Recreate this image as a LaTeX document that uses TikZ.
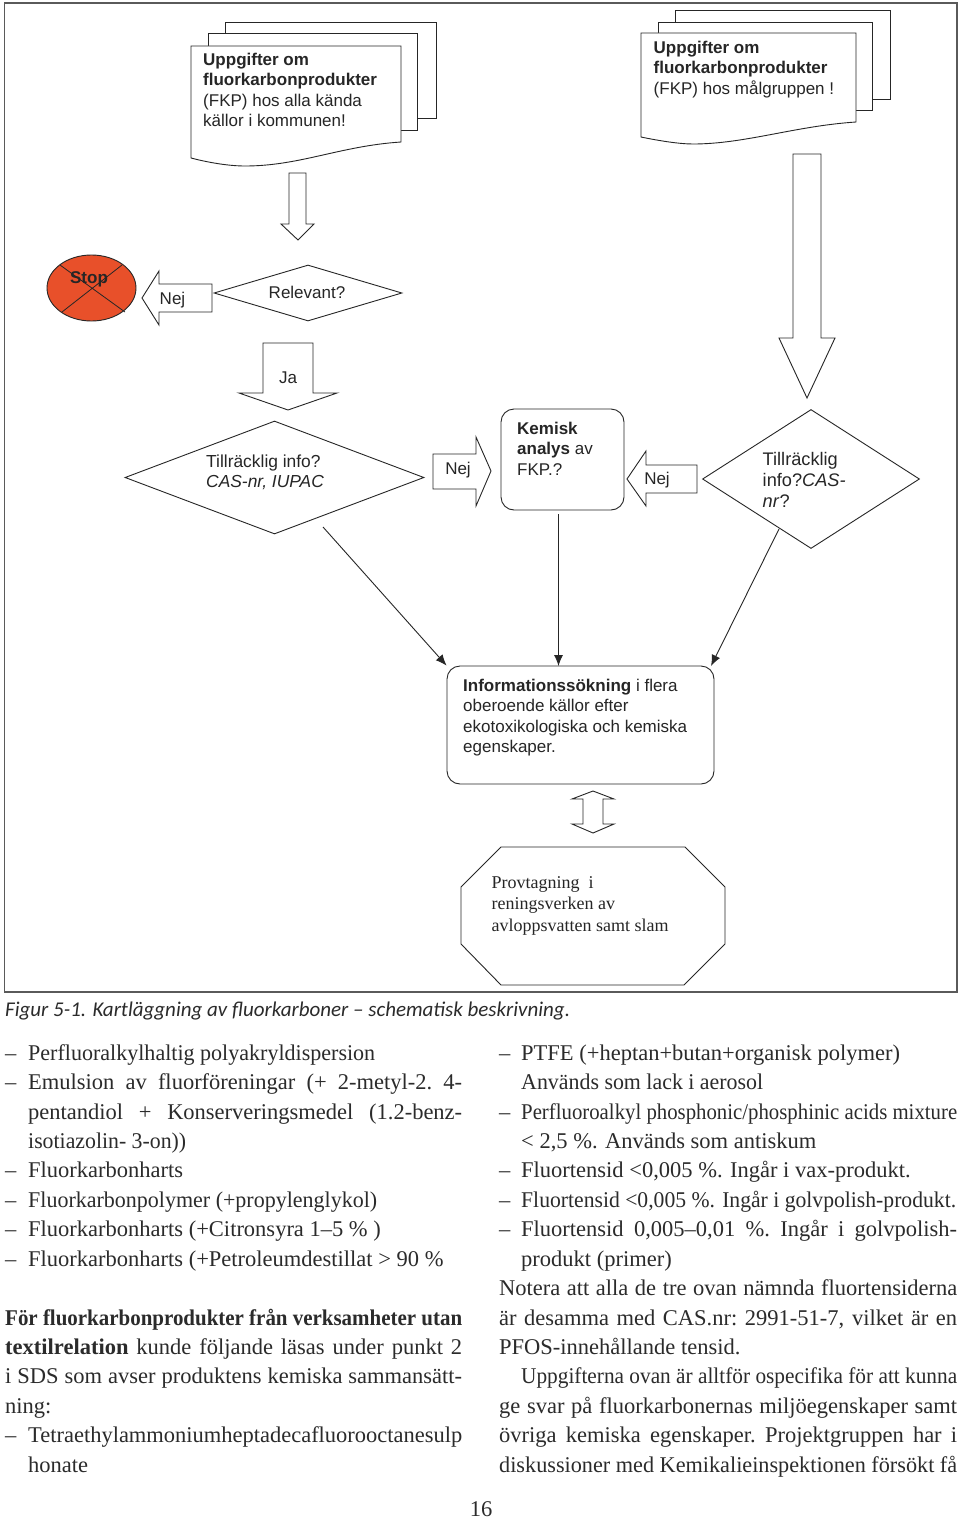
\documentclass[tikz,border=0pt]{standalone}
\usepackage{graphicx}
\usepackage{fontspec}
\setmainfont{Liberation Serif}
\newfontfamily\diagsans{Liberation Sans}
\newfontfamily\capsans{Carlito}
\usetikzlibrary{shapes.geometric,arrows.meta}
\definecolor{ink}{HTML}{2B2B2B}
\definecolor{dtext}{HTML}{262626}
\definecolor{frameg}{HTML}{5A5A5A}
\definecolor{stopred}{HTML}{E8502A}
\tikzset{
  shape line/.style={draw=black!85,line width=0.9pt,fill=white,line join=miter},
  round box/.style={shape line,rounded corners=13pt,minimum width=0pt,inner sep=0pt},
  dmd/.style={shape line,diamond,inner sep=0pt,aspect=2},
  dlabel/.style={font=\diagsans\fontsize{17}{20.3}\selectfont,text=dtext,inner sep=0pt,align=left},
  slabel/.style={font=\fontsize{18}{21.5}\selectfont,text=dtext,inner sep=0pt,align=left},
  body/.style={font=\fontsize{22.5}{29}\selectfont,text=ink,inner sep=0pt,anchor=base west},
  thin arrow/.style={draw=black!85,line width=0.9pt,-{Latex[length=11pt,width=9pt]}},
}
\newsavebox{\linebox}
\newcommand{\fitline}[2]{\sbox{\linebox}{#2}%
  \ifdim\wd\linebox>#1pt
    \pgfmathsetmacro{\lineratio}{#1/\the\wd\linebox}%
    \scalebox{\lineratio}[1]{\usebox{\linebox}}%
  \else
    \spaceskip=.25em plus 1em\xspaceskip=\spaceskip\hbox to #1pt{#2}%
  \fi}
\newcommand{\nl}[4]{\node[body] (#1) at (#2,#3+0.5) {#4};}
\newcommand{\jl}[5]{\node[body] (#1) at (#2,#3+0.5) {\fitline{#4}{#5}};}
\begin{document}
\begin{tikzpicture}[x=1pt,y=-1pt]
\useasboundingbox (0,0) rectangle (960,1520);
\fill[white] (0,0) rectangle (960,1520);
\draw[frameg,line width=1.1pt] (4.5,3) rectangle (957,992);

% first document stack
\draw[shape line] (225,22) rectangle (436,118);
\draw[shape line] (208,33) rectangle (417,130);
\draw[shape line] (191,46) -- (401,46) -- (401,142) .. controls (340,146) and (300,166) .. (245,166) .. controls (230,166) and (210,163) .. (191,158) -- cycle;
\node[dlabel,anchor=north west] (doca) at (203,53) {\textbf{Uppgifter om}\\\textbf{fluorkarbonprodukter}\\(FKP) hos alla kända\\källor i kommunen!};

% second document stack
\draw[shape line] (675,10) rectangle (890,99);
\draw[shape line] (658,22) rectangle (872,110);
\draw[shape line] (641,33) -- (856,33) -- (856,122) .. controls (795,126) and (745,144) .. (693,144) .. controls (680,144) and (660,141) .. (641,137) -- cycle;
\node[dlabel,anchor=north west] (docb) at (653.5,41) {\textbf{Uppgifter om}\\\textbf{fluorkarbonprodukter}\\(FKP) hos målgruppen !};

% block arrow below first stack
\draw[shape line] (289,173) -- (306,173) -- (306,224) -- (314,224) -- (298,240) -- (281,224) -- (289,224) -- cycle;

% long block arrow
\draw[shape line] (793,154) -- (821,154) -- (821,338) -- (835,338) -- (807,398) -- (779,338) -- (793,338) -- cycle;

% stop
\node[shape line,ellipse,fill=stopred,minimum width=89pt,minimum height=66pt,inner sep=0pt] (stop) at (91.5,288) {};
\draw[black!85,line width=0.8pt] (60,265) -- (125,312) (122,265) -- (62,312);
\node[dlabel,font=\diagsans\bfseries\fontsize{17}{20}\selectfont] (stoptext) at (89,279) {Stop};

% relevant
\node[dmd,minimum width=188pt,minimum height=56pt,aspect=3.36] (rel) at (308,293) {};
\node[dlabel] (reltext) at (307,292) {Relevant?};
\draw[shape line] (212,284) -- (159,284) -- (159,271) -- (142,298) -- (159,325) -- (159,312) -- (212,312) -- cycle;
\node[dlabel] (nej1) at (172.5,300) {Nej};

% ja
\draw[shape line] (263,343) -- (313,343) -- (313,393) -- (337,393) -- (288,410) -- (239,393) -- (263,393) -- cycle;
\node[dlabel] (ja) at (288,378) {Ja};

% left diamond
\node[dmd,minimum width=299pt,minimum height=113pt,aspect=2.65] (dleft) at (274.5,477.5) {};
\node[dlabel,font=\diagsans\fontsize{17.4}{20}\selectfont,anchor=north west] (dlefttext) at (206,455) {Tillräcklig info?\\\textit{CAS-nr, IUPAC}};
\draw[shape line] (433,454) -- (476,454) -- (476,437) -- (491,471) -- (476,506) -- (476,489) -- (433,489) -- cycle;
\node[dlabel] (nej2) at (458,470) {Nej};

% kemisk
\node[round box,minimum width=123pt,minimum height=101pt] (kem) at (562.5,459.5) {};
\node[dlabel,anchor=north west] (kemtext) at (517,422) {\textbf{Kemisk}\\\textbf{analys} av\\FKP.?};

% right nej
\draw[shape line] (697,465) -- (646,465) -- (646,451) -- (627,479) -- (646,506) -- (646,493) -- (697,493) -- cycle;
\node[dlabel] (nej3) at (657,480) {Nej};

% right diamond
\node[dmd,minimum width=217pt,minimum height=139pt,aspect=1.56] (dright) at (811,479) {};
\node[dlabel,font=\diagsans\fontsize{18.2}{21}\selectfont,anchor=north west] (drighttext) at (762.5,452.5) {Tillräcklig\\info?\textit{CAS-}\\\textit{nr}?};

% info
\node[round box,minimum width=267pt,minimum height=118pt] (info) at (580.5,725) {};
\node[dlabel,anchor=north west] (infotext) at (463,679) {\textbf{Informationssökning} i flera\\oberoende källor efter\\ekotoxikologiska och kemiska\\egenskaper.};

% thin arrows
\coordinate (a1s) at (323,527);
\coordinate (a2s) at (558.5,514);
\coordinate (a2e) at (558.5,666);
\coordinate (a3s) at (779,529);
\coordinate (a3e) at (711,666);
\draw[thin arrow] (a1s) -- (info.north west);
\draw[thin arrow] (a2s) -- (a2e);
\draw[thin arrow] (a3s) -- (a3e);

% double arrow
\draw[shape line] (593,791) -- (614,799) -- (603,799) -- (603,824) -- (614,824) -- (593,833) -- (572,824) -- (583,824) -- (583,799) -- (572,799) -- cycle;

% octagon
\draw[shape line] (501,847) -- (685,847) -- (725,887) -- (725,944) -- (684,985) -- (501,985) -- (461,944) -- (461,887) -- cycle;
\node[slabel,anchor=north west] (prov) at (491.5,876) {Provtagning\ \ i\\reningsverken av\\avloppsvatten samt slam};

% caption
\node[font=\capsans\itshape\fontsize{21}{25}\selectfont,text=ink,inner sep=0pt,anchor=base west] (cap) at (5,1016) {Figur 5-1. Kartläggning av fluorkarboner – schematisk beskrivning.};

% left column
\nl{la1}{5}{1060}{–}\jl{lb1}{28}{1060}{347}{Perfluoralkylhaltig polyakryldispersion}
\nl{la2}{5}{1089}{–}\jl{lb2}{28}{1089}{434}{Emulsion av fluorföreningar (+ 2-metyl-2. 4-}
\jl{lb3}{28}{1119}{434}{pentandiol + Konserveringsmedel (1.2-benz-}
\jl{lb4}{28}{1148}{158}{isotiazolin- 3-on))}
\nl{la5}{5}{1177}{–}\nl{lb5}{28}{1177}{Fluorkarbonharts}
\nl{la6}{5}{1207}{–}\jl{lb6}{28}{1207}{349}{Fluorkarbonpolymer (+propylenglykol)}
\nl{la7}{5}{1236}{–}\nl{lb7}{28}{1236}{Fluorkarbonharts (+Citronsyra 1–5 \% )}
\nl{la8}{5}{1266}{–}\nl{lb8}{28}{1266}{Fluorkarbonharts (+Petroleumdestillat > 90 \%}
\jl{lc1}{5}{1325}{457}{\textbf{För fluorkarbonprodukter från verksamheter utan}}
\jl{lc2}{5}{1354}{457}{\textbf{textilrelation} kunde följande läsas under punkt 2}
\jl{lc3}{5}{1383}{457}{i SDS som avser produktens kemiska sammansätt-}
\nl{lc4}{5}{1413}{ning:}
\nl{la9}{5}{1442}{–}\jl{lb9}{28}{1442}{434}{Tetraethylammoniumheptadecafluorooctanesulp}
\nl{lb10}{28}{1472}{honate}

% right column
\nl{ra1}{499}{1060}{–}\nl{rb1}{521}{1060}{PTFE (+heptan+butan+organisk polymer)}
\jl{rb2}{521}{1089}{242}{Används som lack i aerosol}
\nl{ra3}{499}{1119}{–}\jl{rb3}{521}{1119}{436}{Perfluoroalkyl phosphonic/phosphinic acids mixture}
\nl{rb4}{521}{1148}{< 2,5 \%. Används som antiskum}
\nl{ra5}{499}{1177}{–}\nl{rb5}{521}{1177}{Fluortensid <0,005 \%. Ingår i vax-produkt.}
\nl{ra6}{499}{1207}{–}\jl{rb6}{521}{1207}{435}{Fluortensid <0,005 \%. Ingår i golvpolish-produkt.}
\nl{ra7}{499}{1236}{–}\jl{rb7}{521}{1236}{436}{Fluortensid 0,005–0,01 \%. Ingår i golvpolish-}
\nl{rb8}{521}{1266}{produkt (primer)}
\jl{rc1}{499}{1295}{458}{Notera att alla de tre ovan nämnda fluortensiderna}
\jl{rc2}{499}{1325}{458}{är desamma med CAS.nr: 2991-51-7, vilket är en}
\nl{rc3}{499}{1354}{PFOS-innehållande tensid.}
\jl{rd1}{521}{1383}{436}{Uppgifterna ovan är alltför ospecifika för att kunna}
\jl{rd2}{499}{1413}{458}{ge svar på fluorkarbonernas miljöegenskaper samt}
\jl{rd3}{499}{1442}{458}{övriga kemiska egenskaper. Projektgruppen har i}
\jl{rd4}{499}{1472}{458}{diskussioner med Kemikalieinspektionen försökt få}

\node[font=\fontsize{22.5}{27}\selectfont,text=ink,inner sep=0pt] (pageno) at (481,1509) {16};
\end{tikzpicture}
\end{document}
